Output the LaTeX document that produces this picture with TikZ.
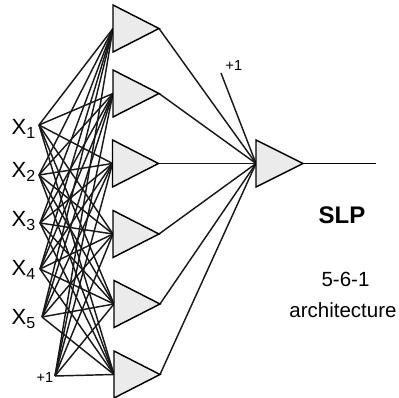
\documentclass[tikz,border=0pt]{standalone}
\usepackage{fontspec}
\setmainfont{Liberation Sans}
\usetikzlibrary{calc}
\begin{document}
\begin{tikzpicture}[x=1pt,y=-1pt,
  conn/.style={line width=1.45pt,black!90},
  neuron/.style={line width=1.45pt,fill=black!8,line join=miter},
  inlab/.style={anchor=base west,inner sep=0pt,font=\fontsize{22}{22}\selectfont},
  smalllab/.style={inner sep=0pt,font=\fontsize{14.5}{14.5}\selectfont}]
\useasboundingbox (0,0) rectangle (399,398);
% input points
\coordinate (i1) at (39,125);
\coordinate (i2) at (39,175);
\coordinate (i3) at (40,223);
\coordinate (i4) at (40,269);
\coordinate (i5) at (42,317);
\coordinate (ib) at (55,376);
% hidden neuron inputs (middle of left edge) and tips
\foreach \k/\yy/\xx in {1/28.5/113,2/93.5/113,3/163.5/112.5,4/234/113,5/304/114,6/374.5/114}{
  \coordinate (h\k) at (\xx,\yy);
  \coordinate (t\k) at (\xx+46,\yy);
}
% output neuron
\coordinate (o) at (256,163.5);
\coordinate (ot) at (303,163.5);
\coordinate (oend) at (376,163.5);
\coordinate (ob) at (221,73);
% connections input -> hidden
\foreach \i in {i1,i2,i3,i4,i5,ib}{
  \foreach \k in {1,...,6}{
    \draw[conn] (\i) -- (h\k);
  }
}
% hidden -> output
\foreach \k in {1,...,6}{
  \draw[conn] (t\k) -- (o);
}
\draw[conn] (ob) -- (o);
\draw[line width=1.1pt] (ot) -- (oend);
% triangles
\foreach \k in {1,...,6}{
  \draw[neuron] ($(h\k)+(0,-23.5)$) -- ($(h\k)+(0,23.5)$) -- (t\k) -- cycle;
}
\draw[neuron] ($(o)+(0,-23.5)$) -- ($(o)+(0,23.5)$) -- (ot) -- cycle;
% labels
\node[inlab] (l1) at (11.5,135) {X\raisebox{-4pt}{\fontsize{16}{16}\selectfont 1}};
\node[inlab] (l2) at (11.5,177.5) {X\raisebox{-4pt}{\fontsize{16}{16}\selectfont 2}};
\node[inlab] (l3) at (11.5,227) {X\raisebox{-4pt}{\fontsize{16}{16}\selectfont 3}};
\node[inlab] (l4) at (11.5,276) {X\raisebox{-4pt}{\fontsize{16}{16}\selectfont 4}};
\node[inlab] (l5) at (11.5,324) {X\raisebox{-4pt}{\fontsize{16}{16}\selectfont 5}};
\node[smalllab] (lb) at (45,378) {+1};
\node[smalllab] (lob) at (234,66) {+1};
\node[inner sep=0pt,anchor=base,font=\fontsize{24}{24}\selectfont\bfseries] (slp) at (342,224) {SLP};
\node[inner sep=0pt,anchor=base,font=\fontsize{20.5}{20.5}\selectfont] (arch1) at (345.5,287) {5-6-1};
\node[inner sep=0pt,anchor=base,font=\fontsize{20.5}{20.5}\selectfont] (arch2) at (343,317) {architecture};
\end{tikzpicture}
\end{document}
